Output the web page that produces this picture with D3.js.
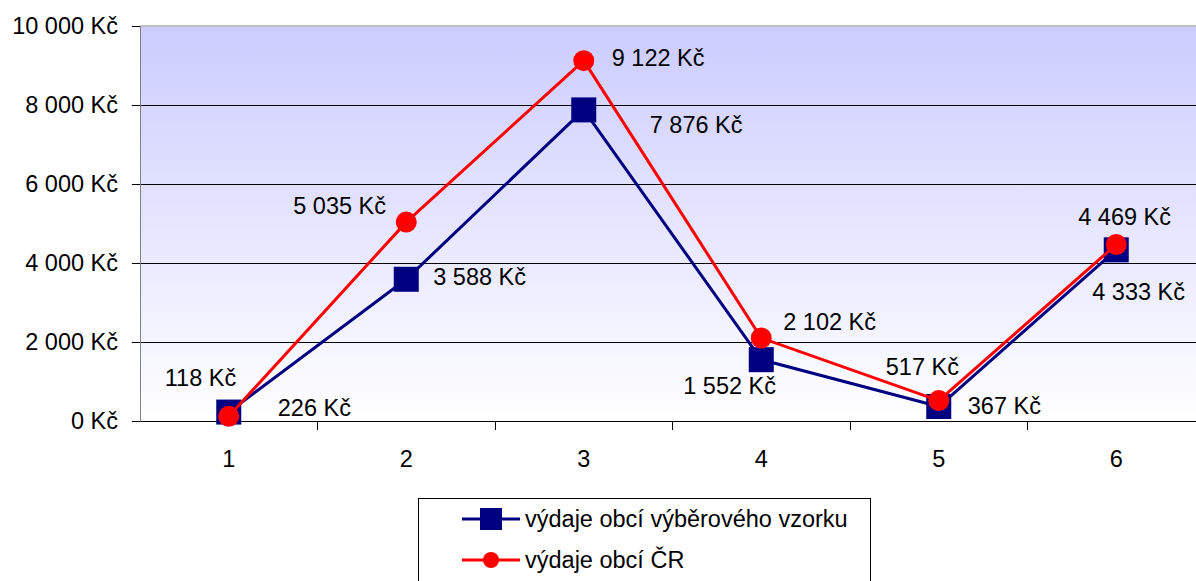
<!DOCTYPE html>
<html>
<head>
<meta charset="utf-8">
<script src="https://cdn.jsdelivr.net/npm/d3@7"></script>
<style>
  html, body { margin: 0; padding: 0; background: #fff; overflow: hidden; }
  svg { display: block; font-family: "Liberation Sans", Arial, sans-serif; }
</style>
</head>
<body>
<svg id="chart" width="1196" height="581"></svg>
<script>
/* ---- data ---- */
const CATEGORIES = ['1', '2', '3', '4', '5', '6'];
const SAMPLE_VALUES = [226, 3588, 7876, 1552, 367, 4333];   // výdaje obcí výběrového vzorku
const CR_VALUES     = [118, 5035, 9122, 2102, 517, 4469];   // výdaje obcí ČR
const Y_TICKS = [0, 2000, 4000, 6000, 8000, 10000];
const SERIES_NAMES = ['výdaje obcí výběrového vzorku', 'výdaje obcí ČR'];

/* ---- label placement (offset from point, px) ---- */
const SAMPLE_LABEL_OFFSETS = [[49, -4], [27, -2], [66, 15], [-78, 26], [29, -1], [-24, 42]];
const CR_LABEL_OFFSETS     = [[-64, -38], [-113, -16], [28, -3], [22, -16], [-53, -34], [-38, -27]];

const FONT = '"Liberation Sans", Arial, sans-serif';
const FS = '23.5px';

const cz = d3.formatLocale({ decimal: ',', thousands: ' ', grouping: [3], currency: ['', ' Kč'] });
const fmt = v => cz.format(',')(v) + ' Kč';

const svg = d3.select('#chart');
const M = { left: 140, top: 26, bottom: 421 };
const plotRight = 1205;

const x = d3.scaleBand().domain(CATEGORIES).range([M.left, plotRight]);
const y = d3.scaleLinear().domain([0, 10000]).range([M.bottom, M.top]);

/* background gradient */
const defs = svg.append('defs');
const grad = defs.append('linearGradient').attr('id', 'bg').attr('x1', 0).attr('y1', 0).attr('x2', 0).attr('y2', 1);
grad.append('stop').attr('offset', '0%').attr('stop-color', '#ccccff');
grad.append('stop').attr('offset', '100%').attr('stop-color', '#ffffff');

svg.append('rect')
  .attr('x', M.left).attr('y', M.top)
  .attr('width', plotRight - M.left).attr('height', M.bottom - M.top)
  .attr('fill', 'url(#bg)');

/* gridlines */
svg.append('g').selectAll('line').data(Y_TICKS.filter(t => t > 0 && t < 10000)).join('line')
  .attr('x1', M.left).attr('x2', plotRight)
  .attr('y1', d => y(d)).attr('y2', d => y(d))
  .attr('stroke', '#000').attr('stroke-width', 1).attr('shape-rendering', 'crispEdges');

svg.append('line')
  .attr('x1', M.left).attr('x2', plotRight).attr('y1', M.top).attr('y2', M.top)
  .attr('stroke', '#c0c0c0').attr('stroke-width', 1.5).attr('shape-rendering', 'crispEdges');

/* y axis */
const yAxis = svg.append('g').attr('transform', `translate(${M.left},0)`)
  .call(d3.axisLeft(y).tickValues(Y_TICKS).tickSize(8).tickPadding(14).tickFormat(fmt));
yAxis.select('.domain').attr('stroke', '#808080');
yAxis.selectAll('.tick line').attr('stroke', '#000');
yAxis.selectAll('text').attr('font-size', FS).attr('fill', '#000').attr('font-family', FONT);

/* x axis */
const xAxis = svg.append('g').attr('transform', `translate(0,${M.bottom})`)
  .call(d3.axisBottom(x).tickSize(0).tickPadding(29));
xAxis.select('.domain').attr('stroke', '#000');
xAxis.selectAll('text').attr('font-size', FS).attr('fill', '#000').attr('font-family', FONT);
// category separator ticks
svg.append('g').selectAll('line').data(CATEGORIES.slice(1)).join('line')
  .attr('x1', d => x(d)).attr('x2', d => x(d))
  .attr('y1', M.bottom).attr('y2', M.bottom + 9)
  .attr('stroke', '#000').attr('shape-rendering', 'crispEdges');

const cx = c => x(c) + x.bandwidth() / 2;
const line = d3.line().x((d, i) => cx(CATEGORIES[i])).y(d => y(d));

/* sample series (navy squares) */
svg.append('path').datum(SAMPLE_VALUES).attr('d', line)
  .attr('fill', 'none').attr('stroke', '#000080').attr('stroke-width', 3).attr('stroke-linejoin', 'round');
svg.append('g').selectAll('rect').data(SAMPLE_VALUES).join('rect')
  .attr('x', (d, i) => cx(CATEGORIES[i]) - 12.5).attr('y', d => y(d) - 12.5)
  .attr('width', 25).attr('height', 25).attr('fill', '#000080');

/* CR series (red circles) */
svg.append('path').datum(CR_VALUES).attr('d', line)
  .attr('fill', 'none').attr('stroke', '#ff0000').attr('stroke-width', 3).attr('stroke-linejoin', 'round');
svg.append('g').selectAll('circle').data(CR_VALUES).join('circle')
  .attr('cx', (d, i) => cx(CATEGORIES[i])).attr('cy', d => y(d))
  .attr('r', 10.5).attr('fill', '#ff0000');

/* data labels */
function labels(values, offsets) {
  svg.append('g').selectAll('text').data(values).join('text')
    .attr('x', (d, i) => cx(CATEGORIES[i]) + offsets[i][0])
    .attr('y', (d, i) => y(d) + offsets[i][1])
    .attr('dominant-baseline', 'central')
    .attr('font-size', FS).attr('font-family', FONT).attr('fill', '#000')
    .text(fmt);
}
labels(SAMPLE_VALUES, SAMPLE_LABEL_OFFSETS);
labels(CR_VALUES, CR_LABEL_OFFSETS);

/* legend */
const lg = svg.append('g').attr('transform', 'translate(418,498)');
lg.append('rect').attr('x', 0.5).attr('y', 0.5).attr('width', 452).attr('height', 100)
  .attr('fill', '#fff').attr('stroke', '#000').attr('stroke-width', 1);
const items = [
  { name: SERIES_NAMES[0], color: '#000080', shape: 'square', y: 21 },
  { name: SERIES_NAMES[1], color: '#ff0000', shape: 'circle', y: 62 },
];
items.forEach(it => {
  lg.append('line').attr('x1', 44).attr('x2', 102).attr('y1', it.y).attr('y2', it.y)
    .attr('stroke', it.color).attr('stroke-width', 3);
  if (it.shape === 'square') {
    lg.append('rect').attr('x', 62).attr('y', it.y - 11).attr('width', 22).attr('height', 22).attr('fill', it.color);
  } else {
    lg.append('circle').attr('cx', 73).attr('cy', it.y).attr('r', 8).attr('fill', it.color);
  }
  lg.append('text').attr('x', 107).attr('y', it.y).attr('dominant-baseline', 'central')
    .attr('font-size', FS).attr('font-family', FONT).attr('fill', '#000').text(it.name);
});
</script>
</body>
</html>
